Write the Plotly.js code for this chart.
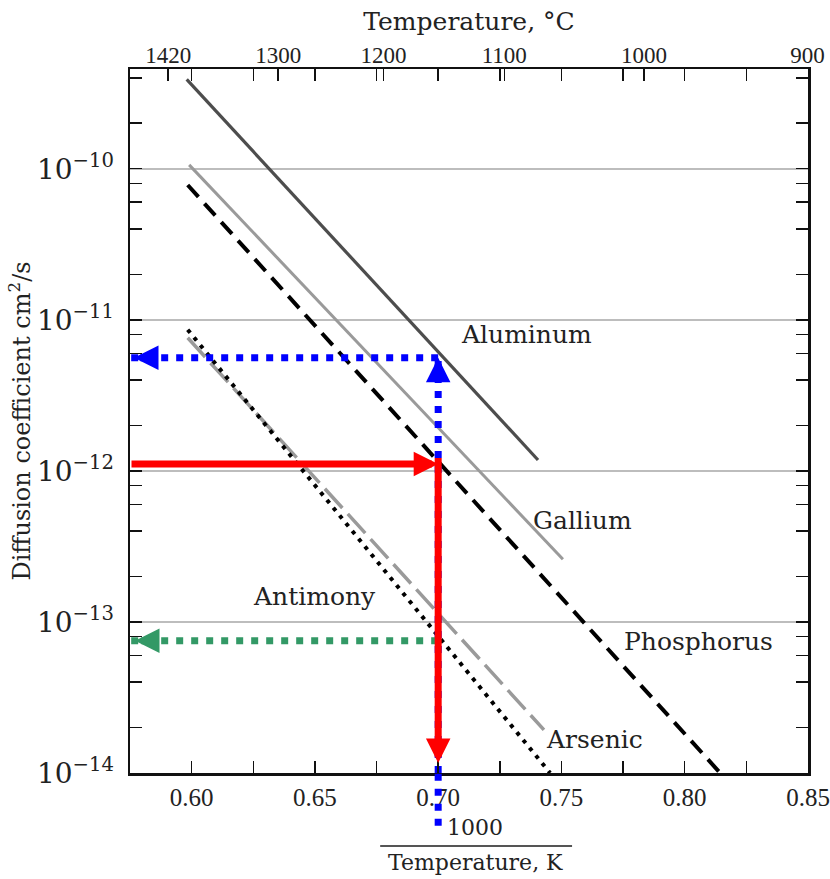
<!DOCTYPE html>
<html><head><meta charset="utf-8">
<script src="https://cdn.plot.ly/plotly-3.0.1.min.js"></script>
<style>html,body{margin:0;padding:0;background:#fff}#chart{width:830px;height:879px}</style>
</head><body><div id="chart"></div>
<script>
// ---------- data ----------
const elements = ['Aluminum', 'Gallium', 'Phosphorus', 'Antimony', 'Arsenic'];
const aluminumInvT = [0.598, 0.7405];
const aluminumD = [3.9e-10, 1.18e-12];
const galliumInvT = [0.599, 0.7506];
const galliumD = [1.06e-10, 2.6e-13];
const phosphorusInvT = [0.5984, 0.8144];
const phosphorusD = [7.8e-11, 1.0e-14];
const antimonyInvT = [0.5984, 0.7454];
const antimonyD = [8.6e-12, 1.0e-14];
const arsenicInvT = [0.5984, 0.7429];
const arsenicD = [7.6e-12, 1.93e-14];

// read-out at 1000/T = 0.70
const readoutInvT = 0.70;
const readoutAluminum = 5.6e-12;
const readoutPhosphorus = 1.11e-12;
const readoutAntimony = 7.5e-14;

// ticks
const xTickVals = [0.60, 0.65, 0.70, 0.75, 0.80, 0.85];
const xTickText = ['0.60', '0.65', '0.70', '0.75', '0.80', '0.85'];
const celsiusTicks = [1420, 1300, 1200, 1100, 1000, 900];
const yDecades = [-14, -13, -12, -11, -10];
const yTickText = ['10<sup>−14</sup>', '10<sup>−13</sup>', '10<sup>−12</sup>', '10<sup>−11</sup>', '10<sup>−10</sup>'];

// ---------- layout constants ----------
const xMin = 0.575, xMax = 0.85;
const yMinLog = -14, yMaxLog = -9.34;
const serif = 'DejaVu Serif';
const serifNarrow = 'Liberation Serif';

const celsiusPos = celsiusTicks.map(c => 1000 / (c + 273.15));
const minorY = [];
yDecades.forEach(d => [2, 4, 6, 8].forEach(m => minorY.push(m * Math.pow(10, d))));

const line = (x, y, name, color, width, dash) => ({
  type: 'scatter', mode: 'lines', x, y, name, showlegend: false,
  line: {color, width, dash}, hoverinfo: 'skip'
});

const traces = [
  line(aluminumInvT, aluminumD, elements[0], '#4d4d4d', 3.2, 'solid'),
  line(galliumInvT, galliumD, elements[1], '#9a9a9a', 3, 'solid'),
  line(phosphorusInvT, phosphorusD, elements[2], '#000000', 4, '16px,9px'),
  line(arsenicInvT, arsenicD, elements[4], '#9a9a9a', 3.5, '26px,8px'),
  line(antimonyInvT, antimonyD, elements[3], '#000000', 4, '4px,6px'),
  // blue dotted read-out (Aluminum)
  line([readoutInvT, readoutInvT], [Math.pow(10, yMinLog), readoutAluminum], 'Al readout v', '#0000ff', 7, '7px,8px'),
  line([readoutInvT, xMin], [readoutAluminum, readoutAluminum], 'Al readout h', '#0000ff', 7, '7px,8px'),
  // green dotted read-out (Antimony)
  line([readoutInvT, xMin], [readoutAntimony, readoutAntimony], 'Sb readout', '#339966', 7, '7px,8px'),
];

const head = {showarrow: true, text: '', arrowhead: 2, arrowsize: 0.7, arrowwidth: 7};
const L = v => Math.log10(v);

const labelPos = {
  Aluminum: [0.7357, 7.96e-12],
  Gallium: [0.7587, 4.67e-13],
  Antimony: [0.6497, 1.47e-13],
  Phosphorus: [0.8055, 7.4e-14],
  Arsenic: [0.7635, 1.66e-14]
};

const annotations = [
  // blue arrow heads
  Object.assign({}, head, {x: readoutInvT, y: L(readoutAluminum), xref: 'x', yref: 'y', ax: 0, ay: 25, arrowcolor: '#0000ff'}),
  Object.assign({}, head, {x: xMin, y: L(readoutAluminum), xref: 'x', yref: 'y', ax: 27, ay: 0, standoff: 4, arrowcolor: '#0000ff'}),
  // green arrow head
  Object.assign({}, head, {x: xMin, y: L(readoutAntimony), xref: 'x', yref: 'y', ax: 28, ay: 0, standoff: 5, arrowcolor: '#339966'}),
  // red arrows
  Object.assign({}, head, {x: readoutInvT, y: L(readoutPhosphorus), xref: 'x', yref: 'y',
    axref: 'x', ayref: 'y', ax: xMin, ay: L(readoutPhosphorus), arrowcolor: '#ff0000'}),
  Object.assign({}, head, {x: readoutInvT, y: yMinLog, xref: 'x', yref: 'y',
    axref: 'x', ayref: 'y', ax: readoutInvT, ay: L(readoutPhosphorus) + 0.05, standoff: 10, arrowcolor: '#ff0000'}),
];

elements.forEach(name => {
  const p = labelPos[name];
  annotations.push({x: p[0], y: L(p[1]), xref: 'x', yref: 'y', text: name, showarrow: false,
    font: {family: serif, size: 25, color: '#222'}, xanchor: 'center', yanchor: 'middle'});
});

// bottom fraction title
annotations.push({x: 0.509, y: -0.077, xref: 'paper', yref: 'paper', text: '1000', showarrow: false,
  font: {family: serif, size: 22, color: '#222'}, xanchor: 'center', yanchor: 'middle'});
annotations.push({x: 0.509, y: -0.127, xref: 'paper', yref: 'paper', text: 'Temperature, K', showarrow: false,
  font: {family: serif, size: 22, color: '#222'}, xanchor: 'center', yanchor: 'middle'});

const shapes = [
  // fraction bar
  {type: 'line', xref: 'paper', yref: 'paper', x0: 0.369, x1: 0.652, y0: -0.1036, y1: -0.1036,
    line: {color: '#555', width: 2}},
  // blue dotted continuation below the axis
  {type: 'line', xref: 'x', yref: 'paper', x0: readoutInvT, x1: readoutInvT, y0: -0.075, y1: 0,
    line: {color: '#0000ff', width: 7, dash: '7px,8px'}},
];

const layout = {
  width: 830, height: 879,
  margin: {l: 130, r: 22, t: 69, b: 106},
  paper_bgcolor: '#fff', plot_bgcolor: '#fff',
  showlegend: false,
  xaxis: {
    range: [xMin, xMax], tickmode: 'array', tickvals: xTickVals, ticktext: xTickText,
    ticks: 'inside', ticklen: 12, tickwidth: 1.5, tickcolor: '#111',
    minor: {dtick: 0.025, tick0: 0.6, ticks: 'inside', ticklen: 12, tickwidth: 1.5, tickcolor: '#111', showgrid: false},
    showline: true, linecolor: '#111', linewidth: 2.5, mirror: 'allticks',
    showgrid: false, zeroline: false,
    tickfont: {family: serifNarrow, size: 25, color: '#222'}, ticklabelstandoff: 0
  },
  xaxis2: {
    overlaying: 'x', side: 'top', range: [xMin, 0.8526],
    tickmode: 'array', tickvals: celsiusPos, ticktext: celsiusTicks.map(String),
    ticks: 'inside', ticklen: 12, tickwidth: 1.5, tickcolor: '#111',
    showline: false, showgrid: false, zeroline: false,
    tickfont: {family: serifNarrow, size: 23, color: '#222'},
    title: {text: 'Temperature, °C', font: {family: serif, size: 25, color: '#222'}, standoff: 5}
  },
  yaxis: {
    type: 'log', range: [yMinLog, yMaxLog],
    tickmode: 'array', tickvals: yDecades.map(d => Math.pow(10, d)), ticktext: yTickText,
    ticks: 'inside', ticklen: 12, tickwidth: 1.5, tickcolor: '#111',
    minor: {tickmode: 'array', tickvals: minorY, ticks: 'inside', ticklen: 12, tickwidth: 1.5, tickcolor: '#111', showgrid: false},
    showline: true, linecolor: '#111', linewidth: 2.5, mirror: 'allticks',
    showgrid: true, gridcolor: '#bdbdbd', gridwidth: 2, zeroline: false,
    tickfont: {family: serif, size: 28, color: '#222'}, ticklabelstandoff: 8,
    title: {text: 'Diffusion coefficient cm<sup>2</sup>/s', font: {family: serif, size: 24, color: '#222'}, standoff: 0}
  },
  annotations, shapes
};

// dummy trace to activate top axis
traces.push({type: 'scatter', mode: 'lines', x: [xMin], y: [1e-14], xaxis: 'x2', showlegend: false,
  hoverinfo: 'skip', line: {width: 0}, opacity: 0});

Plotly.newPlot('chart', traces, layout, {displayModeBar: false, staticPlot: true});
</script>
</body></html>
